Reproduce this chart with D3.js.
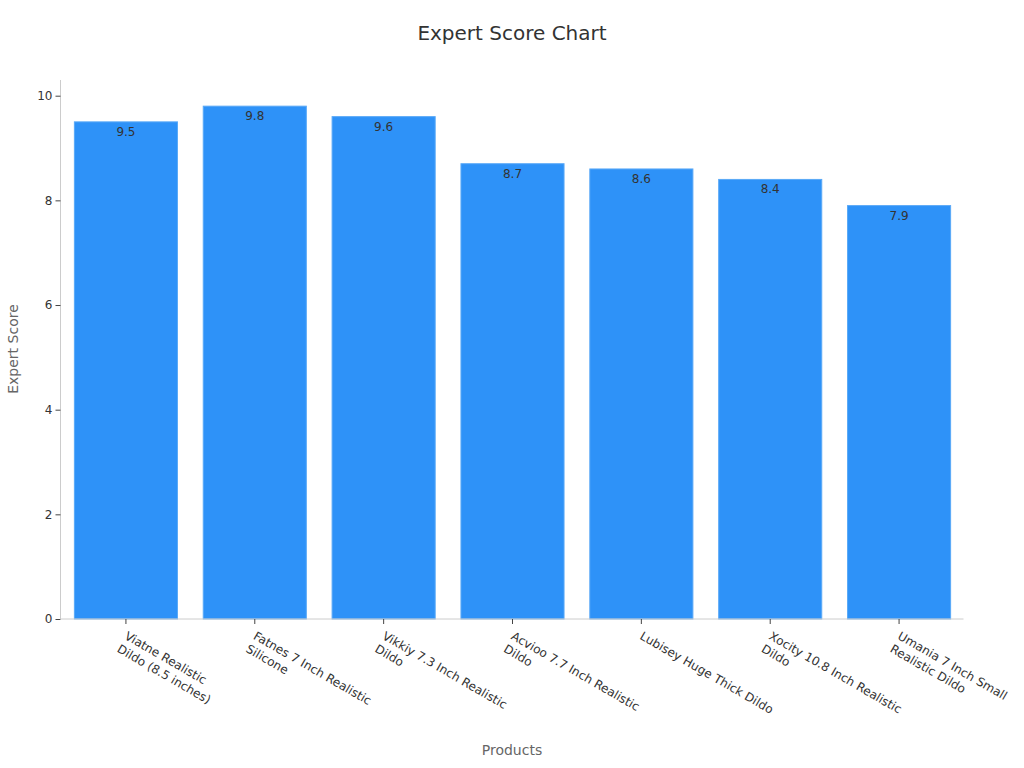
<!DOCTYPE html>
<html><head><meta charset="utf-8">
<script src="https://cdn.jsdelivr.net/npm/d3@7/dist/d3.min.js"></script>
<style>body{margin:0;background:#fff;font-family:"DejaVu Sans",sans-serif;}</style>
</head><body><svg id="c" width="1024" height="768"></svg>
<script>
const categories = [
  "Viatne Realistic\nDildo (8.5 inches)",
  "Fatnes 7 Inch Realistic\nSilicone",
  "Vikkiy 7.3 Inch Realistic\nDildo",
  "Acvioo 7.7 Inch Realistic\nDildo",
  "Lubisey Huge Thick Dildo",
  "Xocity 10.8 Inch Realistic\nDildo",
  "Umania 7 Inch Small\nRealistic Dildo"
];
const scores = [9.5, 9.8, 9.6, 8.7, 8.6, 8.4, 7.9];
const yTicks = [0, 2, 4, 6, 8, 10];

const svg = d3.select("#c");
const m = {l: 60.5, r: 963.5, t: 80, b: 619};
const x = d3.scaleBand().domain(categories).range([m.l + 1, m.r]).paddingInner(0.2).paddingOuter(0.1);
const y = d3.scaleLinear().domain([0, 10.3]).range([m.b, m.t]);

svg.append("text").attr("x", 512).attr("y", 40).attr("text-anchor", "middle")
  .attr("font-size", 20).attr("fill", "#333").text("Expert Score Chart");

svg.selectAll("rect.bar").data(scores).enter().append("rect")
  .attr("x", (d, i) => x(categories[i])).attr("width", x.bandwidth())
  .attr("y", d => y(d)).attr("height", d => y(0) - y(d))
  .attr("fill", "#2e92f8").attr("stroke", "#5aa9f7").attr("stroke-width", 1);

svg.selectAll("text.val").data(scores).enter().append("text")
  .attr("x", (d, i) => x(categories[i]) + x.bandwidth() / 2)
  .attr("y", d => y(d) + 14).attr("text-anchor", "middle")
  .attr("font-size", 12).attr("fill", "#333").text(d => d.toFixed(1));

const ya = svg.append("g").attr("transform", `translate(${m.l},0)`)
  .call(d3.axisLeft(y).tickValues(yTicks).tickSize(5).tickPadding(3));
ya.select(".domain").attr("stroke", "#ccc").attr("d", `M0,${m.t}V${m.b}`);
ya.selectAll(".tick line").attr("stroke", "#444");
ya.selectAll(".tick text").attr("font-size", 12).attr("fill", "#333").attr("font-family", "DejaVu Sans");

const xa = svg.append("g").attr("transform", `translate(0,${m.b})`)
  .call(d3.axisBottom(x).tickSize(5).tickFormat(""));
xa.select(".domain").attr("stroke", "#ccc").attr("d", `M${m.l},0H${m.r}`);
xa.selectAll(".tick line").attr("stroke", "#444");
xa.selectAll(".tick").each(function(d) {
  const t = d3.select(this).append("text")
    .attr("transform", "translate(2,12) rotate(30)")
    .attr("text-anchor", "start").attr("font-size", 12).attr("fill", "#333")
    .attr("font-family", "DejaVu Sans");
  d.split("\n").forEach((line, k) => {
    t.append("tspan").attr("x", 0).attr("dy", k === 0 ? "0.71em" : "1.25em").text(line);
  });
});

svg.append("text").attr("x", 512).attr("y", 755).attr("text-anchor", "middle")
  .attr("font-size", 14).attr("fill", "#666").text("Products");
svg.append("text").attr("transform", "translate(18,349) rotate(-90)").attr("text-anchor", "middle")
  .attr("font-size", 14).attr("fill", "#666").text("Expert Score");
</script></body></html>
